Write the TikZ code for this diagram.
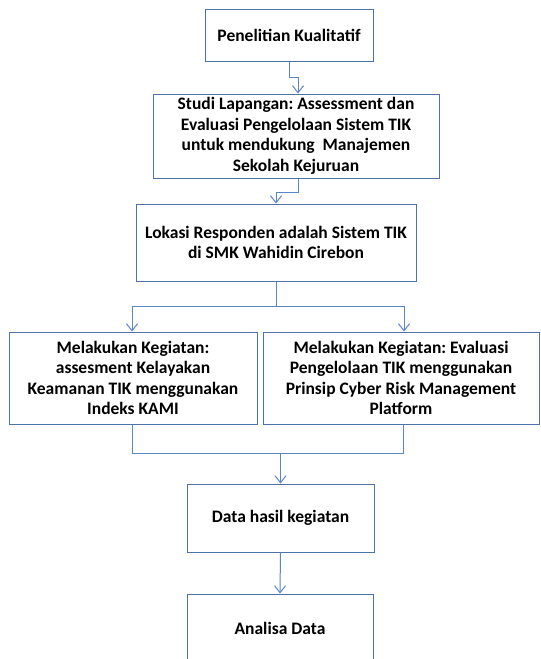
\documentclass[tikz,border=0pt]{standalone}
\usepackage{fontspec}
\setmainfont{Carlito}
\frenchspacing
\usetikzlibrary{arrows.meta,calc}
\definecolor{boxc}{HTML}{4E72A8}
\definecolor{conn}{HTML}{5B86C5}
\tikzset{
  box/.style={draw=boxc, line width=1pt, fill=white, rectangle, inner sep=0pt,
    align=center, font=\fontsize{17.5}{20.5}\selectfont\bfseries, text=black},
  link/.style={draw=conn, line width=1pt},
  arr/.style={link, -{Straight Barb[length=7pt,width=11pt,line width=1pt]}}
}
\begin{document}
\frenchspacing
\begin{tikzpicture}[x=1pt,y=-1pt]
\useasboundingbox[fill=white] (0,0) rectangle (541,659);
\node[box, minimum width=168pt, minimum height=52pt] (b1) at (289,35) {Penelitian Kualitatif};
\node[box, minimum width=286pt, minimum height=84pt] (b2) at (296,136) {Studi Lapangan: Assessment dan\\Evaluasi Pengelolaan Sistem TIK\\untuk mendukung \ Manajemen\\Sekolah Kejuruan};
\node[box, minimum width=280pt, minimum height=77pt] (b3) at (276,242.5) {Lokasi Responden adalah Sistem TIK\\di SMK Wahidin Cirebon};
\node[box, minimum width=248pt, minimum height=92pt] (b4) at (133,378) {Melakukan Kegiatan:\\assesment Kelayakan\\Keamanan TIK menggunakan\\Indeks KAMI};
\node[box, minimum width=276pt, minimum height=92pt] (b5) at (401,378) {Melakukan Kegiatan: Evaluasi\\Pengelolaan TIK menggunakan\\Prinsip Cyber Risk Management\\Platform};
\node[box, minimum width=187pt, minimum height=68pt] (b6) at (280.5,518) {Data hasil kegiatan};
\node[box, minimum width=186pt, minimum height=68pt] (b7) at (280,628) {Analisa Data};
% connectors
\draw[arr] (b1.south) -- ++(0,16) -| ([xshift=2pt]b2.north);
\draw[arr] ([xshift=2pt]b2.south) -- ++(0,14) -| (b3.north);
\coordinate (s1) at ($(b3.south)+(0,25)$);
\draw[link] (b3.south) -- (s1);
\draw[arr] (s1) -| ([xshift=-1pt]b4.north);
\draw[arr] (s1) -| ([xshift=3pt]b5.north);
\coordinate (m) at ($(b6.north)+(0,-30)$);
\draw[link] ([xshift=-1pt]b4.south) |- (m);
\draw[link] ([xshift=2pt]b5.south) |- (m);
\draw[arr] (m) -- (b6.north);
\draw[arr] (b6.south) -- (b7.north);
\end{tikzpicture}
\end{document}
